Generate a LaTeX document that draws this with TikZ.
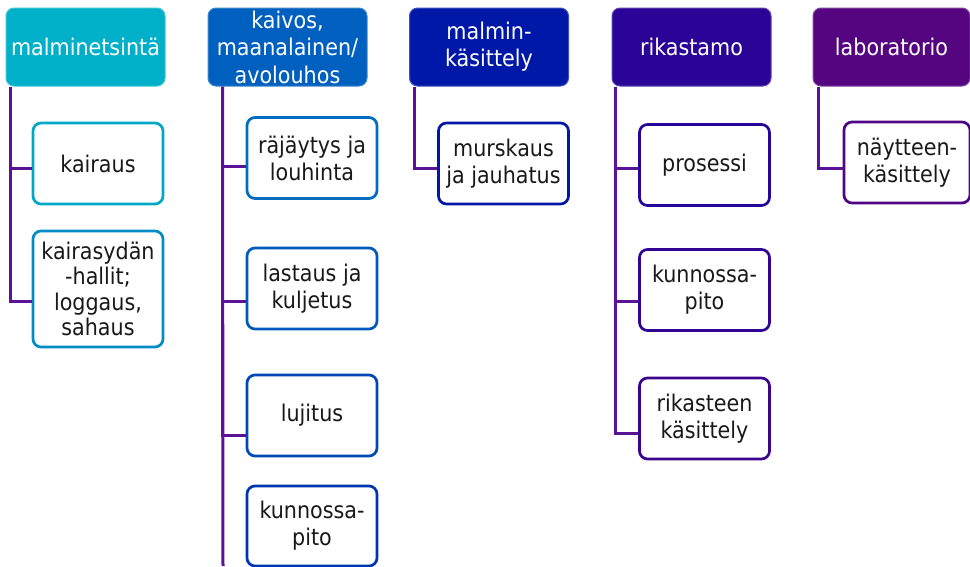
\documentclass[tikz,border=0pt]{standalone}
\usepackage{fontspec}
\setmainfont{DejaVu Sans Condensed}
\usepackage{tikz}
\usepackage{xcolor}
\definecolor{headcyan}{HTML}{00B0C8}
\definecolor{headblue}{HTML}{0060BF}
\definecolor{headnavy}{HTML}{0018A8}
\definecolor{headindigo}{HTML}{2A0496}
\definecolor{headviolet}{HTML}{560580}
\definecolor{linkpurple}{HTML}{5A1296}

\begin{document}
\begin{tikzpicture}[x=1pt, y=-1pt,
  every node/.style={font=\fontsize{23}{27}\selectfont, align=center, inner sep=0pt},
  headbox/.style={rounded corners=8pt, fill=#1, draw=#1!75!white, line width=1pt, text=white, minimum width=159pt, minimum height=78pt},
  itembox/.style={rounded corners=8pt, fill=white, draw=#1, line width=2.7pt, text=black!90, minimum width=130pt, minimum height=81pt},
  link/.style={draw=linkpurple, line width=3pt}]
\useasboundingbox (0,0) rectangle (970,566);

% malminetsinta
\node[headbox=headcyan] (malm) at (85.5,47) {malminetsintä};
\node[itembox=headcyan!90!headblue] (kair) at (98,163.5) {kairaus};
\node[itembox=headcyan!55!headblue, minimum height=116pt, font=\fontsize{23}{25.5}\selectfont] (kydn) at (98,289) {kairasydän\\-hallit;\\loggaus,\\sahaus};
\draw[link] ([xshift=5pt]malm.south west) |- ([yshift=-4.5pt]kair.west);
\draw[link] ([xshift=5pt]malm.south west) |- ([yshift=-12pt]kydn.west);

% kaivos
\node[headbox=headblue, font=\fontsize{23}{27.5}\selectfont] (kaiv) at (287.5,47) {kaivos,\\maanalainen/\\avolouhos};
\node[itembox=headblue!85!headcyan] (raj) at (312,158) {räjäytys ja\\louhinta};
\node[itembox=headblue!90!headnavy] (last) at (312,288.5) {lastaus ja\\kuljetus};
\node[itembox=headblue!65!headnavy] (luj) at (312,415.5) {lujitus};
\node[itembox=headblue!40!headnavy, minimum height=80pt] (kkunn) at (312,526) {kunnossa-\\pito};
\coordinate (kaivend) at (223,566);
\draw[link] ([xshift=15pt]kaiv.south west) -- (kaivend);
\draw[link] ([xshift=15pt]kaiv.south west) |- ([yshift=-8pt]raj.west);
\draw[link] ([xshift=15pt]kaiv.south west) |- ([yshift=-12.5pt]last.west);
\draw[link] ([xshift=15pt]kaiv.south west) |- ([yshift=-19.5pt]luj.west);

% malminkasittely
\node[headbox=headnavy] (mkas) at (489,47) {malmin-\\käsittely};
\node[itembox=headnavy!90!headindigo] (mursk) at (503.5,163.5) {murskaus\\ja jauhatus};
\draw[link] ([xshift=5pt]mkas.south west) |- ([yshift=-4.5pt]mursk.west);

% rikastamo
\node[headbox=headindigo] (rik) at (691.5,47) {rikastamo};
\node[itembox=headindigo!90!headnavy] (pros) at (704.5,165) {prosessi};
\node[itembox=headindigo!85!headviolet] (rkunn) at (704.5,290) {kunnossa-\\pito};
\node[itembox=headindigo!60!headviolet] (rkas) at (704.5,418.5) {rikasteen\\käsittely};
\draw[link] ([xshift=4pt]rik.south west) |- ([yshift=-3pt]pros.west);
\draw[link] ([xshift=4pt]rik.south west) |- ([yshift=-11pt]rkunn.west);
\draw[link] ([xshift=4pt]rik.south west) |- ([yshift=-14.5pt]rkas.west);

% laboratorio
\node[headbox=headviolet, minimum width=157pt] (lab) at (891.5,47) {laboratorio};
\node[itembox=headviolet!85!headindigo, minimum width=126pt] (nayt) at (907,162.5) {näytteen-\\käsittely};
\draw[link] ([xshift=6pt]lab.south west) |- ([yshift=-5.5pt]nayt.west);
\end{tikzpicture}
\end{document}
